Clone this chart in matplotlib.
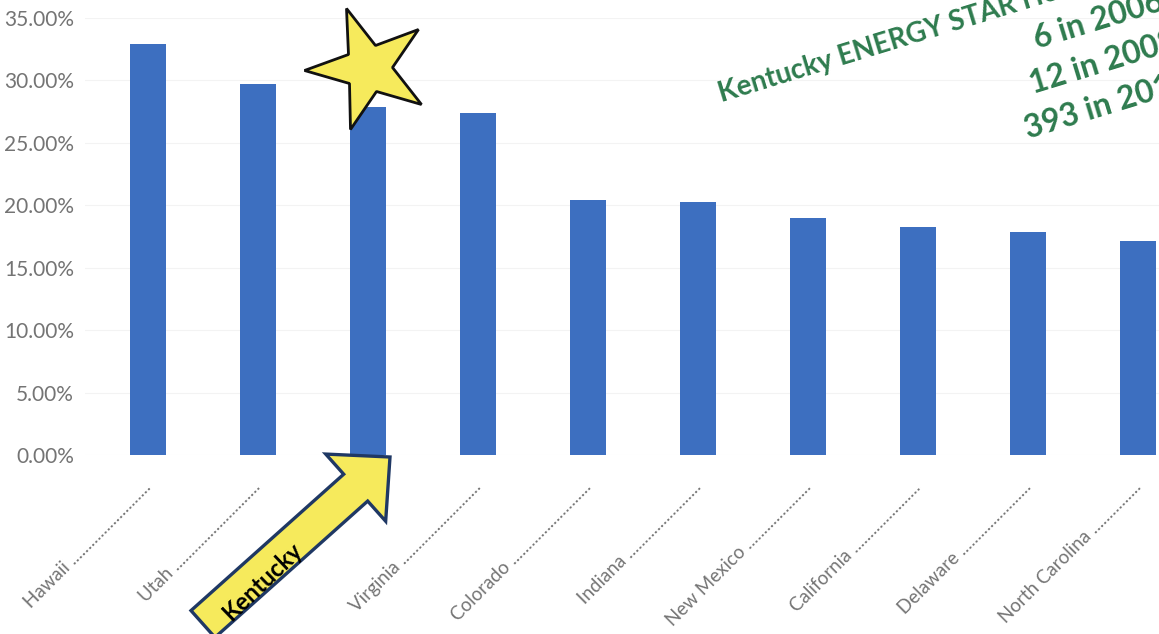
import matplotlib.pyplot as plt
import numpy as np
from matplotlib.markers import MarkerStyle
from matplotlib.patches import FancyArrow
from matplotlib.transforms import Affine2D, IdentityTransform

plt.rcParams['font.family'] = ['Lato', 'DejaVu Sans']

# ----------------------------------
# Data
# ----------------------------------
states = ["Hawaii", "Utah", "Kentucky", "Virginia", "Colorado",
          "Indiana", "New Mexico", "California", "Delaware", "North Carolina"]
share = [0.329, 0.297, 0.279, 0.274, 0.204,
         0.203, 0.190, 0.183, 0.179, 0.171]
# tick labels carry the dotted leaders of the original table
tick_labels = [
    "Hawaii " + "." * 25,
    "Utah " + "." * 27,
    "",
    "Virginia " + "." * 25,
    "Colorado " + "." * 25,
    "Indiana " + "." * 23,
    "New Mexico " + "." * 20,
    "California " + "." * 21,
    "Delaware " + "." * 22,
    "North Carolina " + "." * 15,
]
yticks = [0, 0.05, 0.10, 0.15, 0.20, 0.25, 0.30, 0.35]
note_title = "Kentucky ENERGY STAR Homes"
note_lines = ["6 in 2006", "12 in 2008", "393 in 2010"]

# ----------------------------------
# Plot
# ----------------------------------
W, H = 1159, 634
fig = plt.figure(figsize=(W / 100, H / 100), dpi=100)
ax = fig.add_axes([85 / W, (H - 455) / H, 1 - 85 / W, 437 / H])

x = np.arange(len(states))
ax.bar(x, share, width=0.33, color="#3d6fc0", zorder=2)

ax.set_xlim(-0.57, 9.19)
ax.set_ylim(0, 0.35)
ax.set_yticks(yticks)
ax.set_yticklabels([f"{v * 100:.2f}%" for v in yticks])
ax.set_xticks(x)
ax.set_xticklabels(tick_labels, rotation=45, ha="right", va="center",
                   rotation_mode="anchor")
ax.tick_params(axis="y", length=0, pad=8, labelsize=15, labelcolor="#747474")
ax.tick_params(axis="x", length=0, pad=21, labelsize=13.5, labelcolor="#747474")
for s in ax.spines.values():
    s.set_visible(False)
ax.grid(axis="y", color="#f3f3f3", linewidth=0.8, zorder=0)

# star over Kentucky
star = MarkerStyle("*", transform=Affine2D().rotate_deg(20))
ax.plot([2], [0.31], marker=star, markersize=92, markerfacecolor="#f6ea5c",
        markeredgecolor="#111111", markeredgewidth=2, linestyle="none",
        zorder=5, clip_on=False)

# yellow arrow pointing at the Kentucky bar (pixel coordinates)
arrow = FancyArrow(203, H - 624, 187, 167, width=36, head_width=90,
                   head_length=46, length_includes_head=True,
                   facecolor="#f6ea5c", edgecolor="#1f3864", linewidth=2.4,
                   transform=IdentityTransform(), zorder=6)
fig.add_artist(arrow)
fig.text(262 / W, (H - 582) / H, states[2], rotation=44, rotation_mode="anchor",
         ha="center", va="center", fontsize=17, fontweight="bold",
         color="black", zorder=7)

# green note, rotated
green = "#2e7b4e"
fig.text(722 / W, (H - 102) / H, note_title, rotation=17,
         rotation_mode="anchor", ha="left", va="baseline",
         fontsize=20, fontweight="bold", color=green)
for (px, py), line in zip([(1037, 49), (1033, 94), (1028, 139)], note_lines):
    fig.text(px / W, (H - py) / H, line, rotation=17, rotation_mode="anchor",
             ha="left", va="baseline", fontsize=23, fontweight="bold",
             color=green)

fig.savefig("out.png", dpi=100)
